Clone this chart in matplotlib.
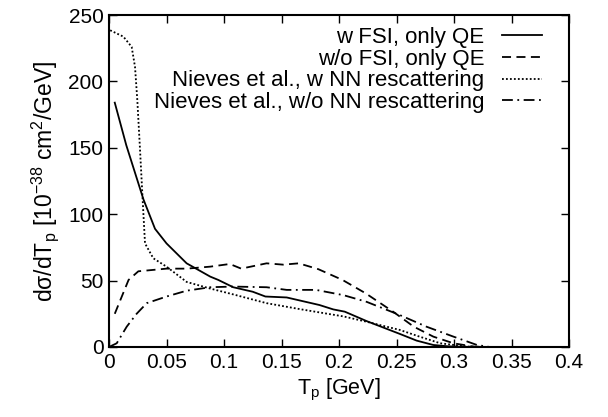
import matplotlib
matplotlib.use("Agg")
import matplotlib.pyplot as plt

plt.rcParams['font.family'] = ['Liberation Sans', 'DejaVu Sans']
plt.rcParams['mathtext.fontset'] = 'custom'
plt.rcParams['mathtext.rm'] = 'Liberation Sans'
plt.rcParams['mathtext.it'] = 'Liberation Sans'

# w FSI, only QE
x_fsi = [0.005, 0.015, 0.030, 0.040, 0.050, 0.0675, 0.088, 0.095, 0.108, 0.125, 0.136, 0.1545,
         0.166, 0.183, 0.195, 0.205, 0.224, 0.253, 0.2675, 0.282, 0.295, 0.305, 0.32, 0.35]
y_fsi = [184, 152, 111, 89, 78, 63, 53, 50.5, 45, 41.6, 38, 37.3,
         35, 31.6, 28.3, 26.6, 19.5, 9.8, 4.8, 1.5, 0.5, 0.2, 0, 0]

# w/o FSI, only QE
x_nofsi = [0.005, 0.017, 0.0255, 0.05, 0.0675, 0.088, 0.105, 0.115, 0.137, 0.1515, 0.165,
           0.182, 0.203, 0.223, 0.247, 0.265, 0.282, 0.2995, 0.317, 0.33, 0.35]
y_nofsi = [25, 50.5, 57, 59, 59, 60.5, 62.5, 59, 63, 62, 63,
           58.6, 50.5, 40.5, 26.6, 15.3, 7.8, 2.8, 0.3, 0, 0]

# Nieves et al., w NN rescattering
x_nn = [0.001, 0.0125, 0.0197, 0.0226, 0.0246, 0.027, 0.0293, 0.0313, 0.0385, 0.05,
        0.0675, 0.088, 0.108, 0.137, 0.166, 0.204, 0.224, 0.253, 0.27, 0.288, 0.311, 0.33, 0.35]
y_nn = [238.5, 233.7, 226, 211, 186, 148, 110, 78, 66.8, 60.5,
        49, 44, 39.6, 33, 28.5, 23, 19, 12.8, 7.8, 2.8, 0.3, 0, 0]

# Nieves et al., w/o NN rescattering
x_nonn = [0.0, 0.0067, 0.0154, 0.024, 0.0328, 0.05, 0.0675, 0.088, 0.108, 0.137, 0.1545,
          0.18, 0.204, 0.224, 0.2385, 0.253, 0.276, 0.2995, 0.32, 0.331, 0.35]
y_nonn = [0, 2.8, 15.3, 25, 33, 38, 42.4, 45, 45.5, 45, 43,
          43, 39, 34, 29, 24, 15.3, 7.8, 1.5, 0, 0]

labels = ["w FSI, only QE", "w/o FSI, only QE",
          "Nieves et al., w NN rescattering", "Nieves et al., w/o NN rescattering"]
xticks = [0, 0.05, 0.1, 0.15, 0.2, 0.25, 0.3, 0.35, 0.4]
xticklabels = ["0", "0.05", "0.1", "0.15", "0.2", "0.25", "0.3", "0.35", "0.4"]
yticks = [0, 50, 100, 150, 200, 250]

fs = 15
fig = plt.figure(figsize=(6.08, 4.17), dpi=100)
ax = fig.add_axes([0.1793, 0.1679, 0.9359 - 0.1793, 0.964 - 0.1679])

lw = 1.3
ax.plot(x_fsi, y_fsi, color='black', lw=lw, linestyle='-', label=labels[0])
ax.plot(x_nofsi, y_nofsi, color='black', lw=lw, linestyle=(0, (5, 3)), label=labels[1])
ax.plot(x_nn, y_nn, color='black', lw=lw, linestyle=(0, (1, 1.2)), label=labels[2])
ax.plot(x_nonn, y_nonn, color='black', lw=lw, linestyle=(0, (6, 2.5, 1, 2.5)), label=labels[3])

ax.set_xlim(0, 0.4)
ax.set_ylim(0, 250)
ax.set_xticks(xticks)
ax.set_xticklabels(xticklabels)
ax.set_yticks(yticks)
ax.tick_params(direction='in', top=True, right=True, length=6, width=1, labelsize=fs, pad=4)
for s in ax.spines.values():
    s.set_linewidth(1.5)

ax.set_xlabel(r"T$_\mathregular{p}$ [GeV]", fontsize=15.5, labelpad=4)
ax.set_ylabel(r"d$\sigma$/dT$_\mathregular{p}$ [10$^\mathregular{-38}$ cm$^\mathregular{2}$/GeV]",
              fontsize=16.5, labelpad=5)

leg = ax.legend(loc='upper right', frameon=False, markerfirst=False, fontsize=16,
                handlelength=1.8, handletextpad=0.8, labelspacing=0.03,
                borderaxespad=0, borderpad=0,
                bbox_to_anchor=(1 - 27 / 460, 1 - 12 / 332))
for t in leg.get_texts():
    t.set_ha('right')

fig.savefig("out.png", dpi=100)
